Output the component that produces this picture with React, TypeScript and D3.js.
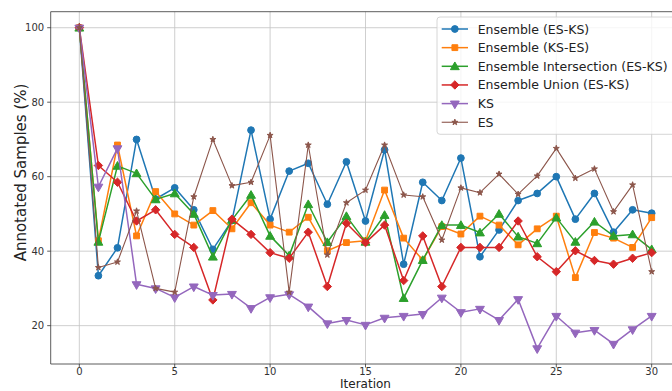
import React from "react";
import * as d3 from "d3";

const iterations = d3.range(0, 31);

const seriesNames = [
  "Ensemble (ES-KS)",
  "Ensemble (KS-ES)",
  "Ensemble Intersection (ES-KS)",
  "Ensemble Union (ES-KS)",
  "KS",
  "ES",
];

const ensembleEsKs = [100, 33.4, 40.9, 70.0, 54.0, 57.0, 51.1, 40.5, 48.2, 72.5, 48.6, 61.5, 63.6, 52.6, 64.0, 48.1, 67.2, 36.5, 58.5, 53.6, 65.0, 38.5, 45.7, 53.6, 55.5, 60.0, 48.6, 55.5, 45.1, 51.1, 50.2];
const ensembleKsEs = [100, 42.8, 68.5, 44.1, 56.0, 50.0, 47.0, 50.9, 46.0, 53.0, 47.0, 45.1, 49.1, 40.1, 42.3, 42.8, 56.4, 43.5, 37.6, 46.6, 44.6, 49.4, 47.0, 41.7, 46.0, 49.4, 32.9, 45.0, 43.5, 41.0, 49.0];
const ensembleIntersection = [100, 42.5, 62.9, 60.9, 53.9, 55.5, 50.0, 38.5, 48.4, 55.1, 44.1, 38.8, 52.6, 42.4, 49.4, 42.5, 49.7, 27.4, 37.6, 47.0, 47.0, 45.0, 50.0, 43.9, 42.1, 49.0, 42.5, 47.9, 44.1, 44.5, 40.5];
const ensembleUnion = [100, 63.0, 58.5, 48.1, 51.1, 44.5, 41.0, 26.9, 48.6, 44.5, 39.6, 38.1, 45.1, 30.5, 47.5, 42.3, 47.0, 32.1, 44.1, 30.5, 41.0, 41.0, 41.0, 48.1, 38.5, 34.5, 40.1, 37.5, 36.5, 38.1, 39.6];
const ks = [100, 57.3, 67.6, 31.1, 30.0, 27.6, 30.5, 28.2, 28.5, 24.7, 27.6, 28.4, 25.1, 20.6, 21.5, 20.2, 22.1, 22.6, 23.1, 27.5, 23.6, 24.5, 21.5, 27.1, 13.9, 22.6, 18.1, 18.8, 15.1, 19.0, 22.6];
const es = [100, 35.6, 37.1, 50.8, 30.0, 29.0, 54.6, 70.0, 57.6, 58.5, 71.1, 29.0, 68.5, 39.0, 53.0, 56.4, 68.5, 55.1, 54.6, 43.0, 57.0, 55.7, 60.7, 55.3, 60.2, 67.6, 59.6, 62.1, 50.6, 57.8, 34.5];

const seriesValues = [ensembleEsKs, ensembleKsEs, ensembleIntersection, ensembleUnion, ks, es];
const seriesColors = ["#1f77b4", "#ff7f0e", "#2ca02c", "#d62728", "#9467bd", "#8c564b"];
const seriesMarkers = ["circle", "square", "triangle", "diamond", "triangleDown", "star"];
const seriesWidths = [1.5, 1.5, 1.5, 1.5, 1.5, 1.1];

const xTicks = [0, 5, 10, 15, 20, 25, 30];
const yTicks = [20, 40, 60, 80, 100];

const W = 672;
const H = 391;
const left = 50.7;
const right = 680.3;
const top = 11.7;
const bottom = 364;

const x = d3.scaleLinear().domain([-1.5, 31.5]).range([left, right]);
const y = d3.scaleLinear().domain([9.7, 104.3]).range([bottom, top]);

function markerPath(kind: string): string {
  switch (kind) {
    case "circle":
      return d3.symbol().type(d3.symbolCircle).size(36)() as string;
    case "square":
      return d3.symbol().type(d3.symbolSquare).size(34)() as string;
    case "triangle":
      return d3.symbol().type(d3.symbolTriangle).size(34)() as string;
    case "triangleDown":
      return d3.symbol().type(d3.symbolTriangle).size(34)() as string;
    case "diamond": {
      const r = 4.2;
      return `M0,${-r}L${r},0L0,${r}L${-r},0Z`;
    }
    case "star":
      return d3.symbol().type(d3.symbolStar).size(11)() as string;
    default:
      return "";
  }
}

const Marker = ({ kind, color, cx, cy }: { kind: string; color: string; cx: number; cy: number }) => {
  const rot = kind === "triangleDown" ? " rotate(180)" : kind === "triangle" ? " translate(0,0.8)" : "";
  return (
    <path
      d={markerPath(kind)}
      transform={`translate(${cx},${cy})${rot}`}
      fill={color}
      stroke={color}
      strokeWidth={1}
    />
  );
};

export default function App() {
  const line = d3
    .line<number>()
    .x((_, i) => x(iterations[i]))
    .y((d) => y(d));

  const legendX = 437;
  const legendY = 17;
  const rowH = 18.65;

  return (
    <svg
      width={W}
      height={H}
      style={{ position: "absolute", left: 0, top: 0, background: "#fff" }}
      fontFamily="'DejaVu Sans', sans-serif"
    >
      <defs>
        <clipPath id="plotclip">
          <rect x={left} y={top} width={right - left} height={bottom - top} />
        </clipPath>
      </defs>
      <rect x={0} y={0} width={W} height={H} fill="#fff" />
      {/* grid */}
      <g stroke="#b0b0b0" strokeWidth={0.8} opacity={0.75}>
        {xTicks.map((t) => (
          <line key={"gx" + t} x1={x(t)} x2={x(t)} y1={top} y2={bottom} />
        ))}
        {yTicks.map((t) => (
          <line key={"gy" + t} x1={left} x2={right} y1={y(t)} y2={y(t)} />
        ))}
      </g>
      {/* series */}
      <g clipPath="url(#plotclip)">
        {seriesValues.map((vals, si) => (
          <g key={seriesNames[si]}>
            <path d={line(vals) as string} fill="none" stroke={seriesColors[si]} strokeWidth={seriesWidths[si]} strokeLinejoin="round" />
            {vals.map((v, i) => (
              <Marker key={i} kind={seriesMarkers[si]} color={seriesColors[si]} cx={x(iterations[i])} cy={y(v)} />
            ))}
          </g>
        ))}
      </g>
      {/* spines */}
      <g stroke="#333" strokeWidth={0.8} fill="none">
        <line x1={left} x2={left} y1={top} y2={bottom} />
        <line x1={left} x2={right} y1={bottom} y2={bottom} />
        <line x1={left} x2={right} y1={top} y2={top} />
      </g>
      {/* ticks */}
      <g fontSize={10} fill="#333">
        {xTicks.map((t) => (
          <g key={"tx" + t}>
            <line x1={x(t)} x2={x(t)} y1={bottom} y2={bottom + 3.5} stroke="#333" strokeWidth={0.8} />
            <text x={x(t)} y={bottom + 10.6} textAnchor="middle">
              {t}
            </text>
          </g>
        ))}
        {yTicks.map((t) => (
          <g key={"ty" + t}>
            <line x1={left - 3.5} x2={left} y1={y(t)} y2={y(t)} stroke="#333" strokeWidth={0.8} />
            <text x={left - 6.5} y={y(t) + 3.6} textAnchor="end">
              {t}
            </text>
          </g>
        ))}
      </g>
      {/* axis labels */}
      <text x={365.5} y={388.2} textAnchor="middle" fontSize={12} fill="#222">
        Iteration
      </text>
      <text
        transform={`translate(25.5,172.5) rotate(-90)`}
        textAnchor="middle"
        fontSize={15}
        fill="#222"
      >
        Annotated Samples (%)
      </text>
      {/* legend */}
      <g>
        <rect
          x={legendX}
          y={legendY}
          width={260}
          height={117.3}
          rx={3}
          fill="#fff"
          fillOpacity={0.8}
          stroke="#cccccc"
          strokeWidth={0.8}
        />
        {seriesNames.map((name, si) => {
          const cy = 29 + si * rowH;
          return (
            <g key={"lg" + si}>
              <line x1={441.7} x2={468} y1={cy} y2={cy} stroke={seriesColors[si]} strokeWidth={seriesWidths[si]} />
              <Marker kind={seriesMarkers[si]} color={seriesColors[si]} cx={454.85} cy={cy} />
              <text x={477.7} y={cy + 4.5} fontSize={12.5} fill="#222">
                {name}
              </text>
            </g>
          );
        })}
      </g>
    </svg>
  );
}
